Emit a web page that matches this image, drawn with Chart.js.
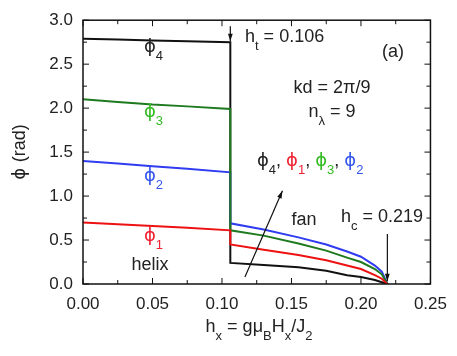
<!DOCTYPE html>
<html lang="en">
<head>
    <meta charset="UTF-8">
    <title>phi vs hx</title>
    <script src="https://cdn.jsdelivr.net/npm/chart.js"></script>
    <style>
        html, body { margin: 0; padding: 0; background: #fff; }
        #wrap { width: 457px; height: 356px; }
    </style>
</head>
<body>
    <div id="wrap"><canvas id="myChart" width="457" height="356"></canvas></div>
    <script>
        // field h_x (the step at h_t = 0.106 is listed twice)
        const hx = [0, 0.025, 0.05, 0.075, 0.106, 0.106, 0.13, 0.155, 0.175, 0.19, 0.20, 0.21, 0.215, 0.219];
        const phi1 = [0.70, 0.68, 0.66, 0.64, 0.61, 0.45, 0.39, 0.33, 0.27, 0.21, 0.17, 0.10, 0.06, 0];
        const phi2 = [1.40, 1.37, 1.34, 1.31, 1.27, 0.69, 0.62, 0.53, 0.45, 0.37, 0.31, 0.21, 0.14, 0];
        const phi3 = [2.10, 2.07, 2.04, 2.02, 1.99, 0.61, 0.55, 0.46, 0.38, 0.30, 0.25, 0.17, 0.11, 0];
        const phi4 = [2.79, 2.78, 2.77, 2.76, 2.75, 0.24, 0.215, 0.19, 0.15, 0.10, 0.08, 0.045, 0.02, 0];

        const xTicks = [0, 0.05, 0.10, 0.15, 0.20, 0.25];
        const yTicks = [0, 0.5, 1.0, 1.5, 2.0, 2.5, 3.0];

        const FONT = '"Liberation Sans", Arial, sans-serif';
        const PHI = '\u03d5';
        const pts = ys => hx.map((x, i) => ({ x: x, y: ys[i] }));

        // text with subscripts: parts = [[text, sub?, color?], ...]
        function fontFor(p, size) {
            const s = p[1] ? Math.round(size * 0.72) : size;
            return s + 'px ' + (p[0].indexOf(PHI) >= 0 ? '"DejaVu Sans", ' : '') + FONT;
        }
        function richWidth(ctx, parts, size) {
            let w = 0;
            parts.forEach(p => {
                ctx.font = fontFor(p, size);
                w += ctx.measureText(p[0]).width;
            });
            return w;
        }
        function drawRich(ctx, parts, x, y, size, align, color) {
            let cx = align === 'center' ? x - richWidth(ctx, parts, size) / 2 : x;
            ctx.textAlign = 'left';
            ctx.textBaseline = 'middle';
            parts.forEach(p => {
                ctx.font = fontFor(p, size);
                ctx.fillStyle = p[2] || color || '#222';
                ctx.fillText(p[0], cx, p[1] ? y + size * 0.5 : y);
                cx += ctx.measureText(p[0]).width;
            });
        }
        function arrow(ctx, x1, y1, x2, y2) {
            ctx.beginPath();
            ctx.moveTo(x1, y1);
            ctx.lineTo(x2, y2);
            ctx.stroke();
            const a = Math.atan2(y2 - y1, x2 - x1);
            ctx.beginPath();
            ctx.moveTo(x2, y2);
            ctx.lineTo(x2 - 8 * Math.cos(a - 0.3), y2 - 8 * Math.sin(a - 0.3));
            ctx.lineTo(x2 - 8 * Math.cos(a + 0.3), y2 - 8 * Math.sin(a + 0.3));
            ctx.closePath();
            ctx.fill();
        }

        const decor = {
            id: 'decor',
            afterDatasetsDraw(chart) {
                const ctx = chart.ctx;
                const xs = chart.scales.x, ys = chart.scales.y;
                const a = chart.chartArea;
                const X = v => xs.getPixelForValue(v), Y = v => ys.getPixelForValue(v);
                ctx.save();
                // frame and inward ticks
                ctx.strokeStyle = '#111';
                ctx.lineWidth = 1.5;
                ctx.strokeRect(a.left, a.top, a.right - a.left, a.bottom - a.top);
                ctx.lineWidth = 1;
                for (let i = 0; i <= 10; i++) {
                    const px = X(i * 0.025), len = i % 2 ? 4 : 6;
                    ctx.beginPath();
                    ctx.moveTo(px, a.bottom); ctx.lineTo(px, a.bottom - len);
                    ctx.moveTo(px, a.top); ctx.lineTo(px, a.top + len);
                    ctx.stroke();
                }
                for (let i = 0; i <= 12; i++) {
                    const py = Y(i * 0.25), len = i % 2 ? 4 : 6;
                    ctx.beginPath();
                    ctx.moveTo(a.left, py); ctx.lineTo(a.left + len, py);
                    ctx.moveTo(a.right, py); ctx.lineTo(a.right - len, py);
                    ctx.stroke();
                }
                // arrows
                ctx.fillStyle = '#111';
                ctx.strokeStyle = '#111';
                ctx.lineWidth = 1.2;
                arrow(ctx, X(0.106), Y(2.93), X(0.106), Y(2.76));
                arrow(ctx, X(0.219), Y(0.57), X(0.219), Y(0.03));
                arrow(ctx, X(0.1165), Y(0.08), X(0.1435), Y(1.06));
                // labels
                const F = 18;
                drawRich(ctx, [['h'], ['t', 1], [' = 0.106']], 245, 37, F, 'left');
                drawRich(ctx, [['(a)']], 393, 52, F, 'center');
                drawRich(ctx, [['kd = 2\u03c0/9']], 332, 88, F, 'center');
                drawRich(ctx, [['n'], ['\u03bb', 1], [' = 9']], 332, 112, F, 'center');
                drawRich(ctx, [[PHI, 0, '#222'], ['4', 1, '#222'], [', ', 0, '#222'],
                    [PHI, 0, '#ee2233'], ['1', 1, '#ee2233'], [', ', 0, '#222'],
                    [PHI, 0, '#33bb22'], ['3', 1, '#33bb22'], [', ', 0, '#222'],
                    [PHI, 0, '#3355ee'], ['2', 1, '#3355ee']], 257, 161, F, 'left');
                drawRich(ctx, [[PHI], ['4', 1]], 144, 47, F, 'left', '#222');
                drawRich(ctx, [[PHI], ['3', 1]], 144, 112, F, 'left', '#33bb22');
                drawRich(ctx, [[PHI], ['2', 1]], 144, 176, F, 'left', '#3355ee');
                drawRich(ctx, [[PHI], ['1', 1]], 144, 236, F, 'left', '#ee2233');
                drawRich(ctx, [['helix']], 150, 265, F, 'center');
                drawRich(ctx, [['fan']], 304, 220, F, 'center');
                drawRich(ctx, [['h'], ['c', 1], [' = 0.219']], 341, 217, F, 'left');
                // axis titles
                drawRich(ctx, [['h'], ['x', 1], [' = g\u03bc'], ['B', 1], ['H'], ['x', 1], ['/J'], ['2', 1]], 259, 327, F, 'center');
                ctx.save();
                ctx.translate(20, 152);
                ctx.rotate(-Math.PI / 2);
                drawRich(ctx, [[PHI + ' '], ['(rad)']], 0, 0, F, 'center');
                ctx.restore();
                ctx.restore();
            }
        };

        const line = (ys, color) => ({
            data: pts(ys), showLine: true, borderColor: color, borderWidth: 2,
            pointRadius: 0, fill: false, tension: 0
        });

        new Chart(document.getElementById('myChart'), {
            type: 'scatter',
            data: {
                datasets: [
                    line(phi1, '#ee1111'),
                    line(phi3, '#1e7a1e'),
                    line(phi2, '#2f3cf0'),
                    line(phi4, '#111111')
                ]
            },
            options: {
                responsive: false,
                animation: false,
                events: [],
                layout: { padding: { left: 0, right: 23, top: 14, bottom: 0 } },
                plugins: { legend: { display: false }, tooltip: { enabled: false } },
                scales: {
                    x: {
                        type: 'linear', min: 0, max: 0.25,
                        grid: { display: false, drawTicks: false },
                        border: { display: false },
                        afterBuildTicks: s => { s.ticks = xTicks.map(v => ({ value: v })); },
                        afterFit: s => { s.height = 72; },
                        ticks: { padding: 10, color: '#222', font: { family: FONT, size: 17 },
                            callback: v => v.toFixed(2) }
                    },
                    y: {
                        type: 'linear', min: 0, max: 3,
                        grid: { display: false, drawTicks: false },
                        border: { display: false },
                        afterBuildTicks: s => { s.ticks = yTicks.map(v => ({ value: v })); },
                        afterFit: s => { s.width = 83; },
                        ticks: { padding: 10, color: '#222', font: { family: FONT, size: 17 },
                            callback: v => v.toFixed(1) }
                    }
                }
            },
            plugins: [decor]
        });
    </script>
</body>
</html>
